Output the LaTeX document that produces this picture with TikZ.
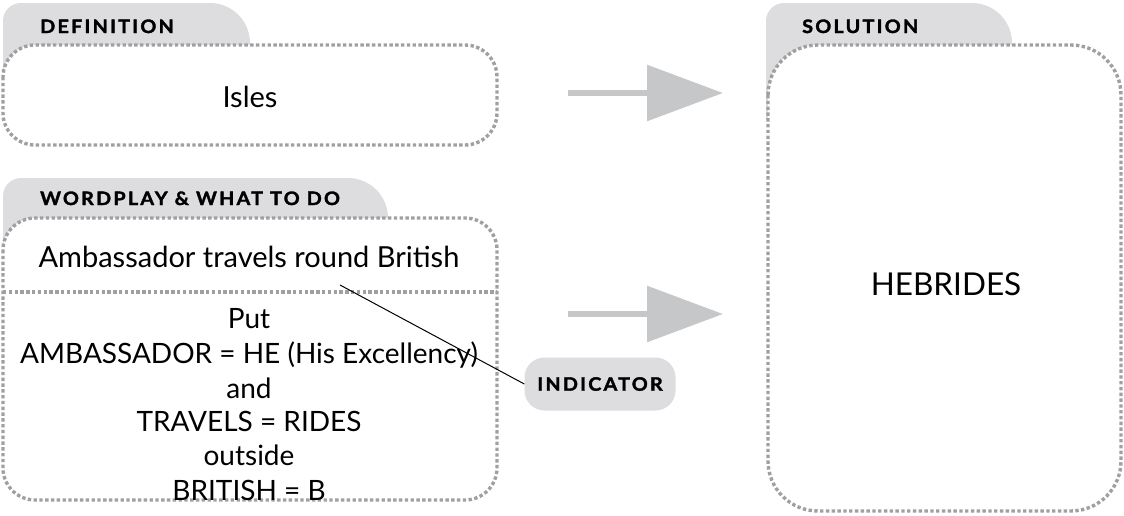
\documentclass[tikz,border=0pt]{standalone}
\usepackage{fontspec}
\setmainfont{Lato}
\newfontfamily\labfont[LetterSpace=12, FakeStretch=1.07, BoldFeatures={FakeBold=1.8}]{Lato}
\usetikzlibrary{arrows.meta}
\definecolor{tabgray}{HTML}{DDDDDF}
\definecolor{dotgray}{HTML}{A0A0A2}
\definecolor{arrgray}{HTML}{C6C7C9}
\tikzset{
  box/.style={draw=dotgray, line width=3.4pt, dash pattern=on 3.4pt off 2.4pt, fill=white, rounded corners=32pt},
  divider/.style={draw=dotgray, line width=3.4pt, dash pattern=on 3.4pt off 2.4pt},
  tab/.style={fill=tabgray},
  lab/.style={anchor=base west, inner sep=0pt, font=\labfont\bfseries\fontsize{18.5}{18.5}\selectfont},
  body/.style={inner sep=0pt, anchor=base, font=\fontsize{29}{34}\selectfont},
  expl/.style={body, font=\fontsize{28}{34}\selectfont},
  bigarrow/.style={draw=arrgray, line width=6pt, -{Triangle[length=76pt,width=55pt]}},
  pill/.style={fill=tabgray, rounded corners=20pt, minimum width=151pt, minimum height=53pt, inner sep=0pt, font=\labfont\bfseries\fontsize{18.5}{18.5}\selectfont},
  conn/.style={draw=black, line width=1pt}
}
\begin{document}
\begin{tikzpicture}[x=1pt,y=-1pt]
\useasboundingbox (0,0) rectangle (1124,515);
% tabs
\fill[tab] (3,95) {[rounded corners=18pt] -- (3,3)} {[rounded corners=40pt] -- (250,3)} -- (250,95) -- cycle;
\fill[tab] (3,265) {[rounded corners=18pt] -- (3,178)} {[rounded corners=40pt] -- (388,178)} -- (388,265) -- cycle;
\fill[tab] (766,120) {[rounded corners=18pt] -- (766,3)} {[rounded corners=40pt] -- (1012,3)} -- (1012,120) -- cycle;
\node[lab] (deflab) at (40,33) {DEFINITION};
\node[lab] (wplab) at (40,205) {WORDPLAY \& WHAT TO DO};
\node[lab] (sollab) at (802,33) {SOLUTION};
% boxes
\path[box] (3,45) rectangle (497,145);
\path[box] (3,218) rectangle (497,500);
\path[box, rounded corners=50pt] (768,45) rectangle (1121,511);
\coordinate (dl) at (3,292);
\coordinate (dr) at (497,292);
\draw[divider] (dl) -- (dr);
\node[body] (isles) at (250,107) {Isles};
\node[body] (clue) at (249,267) {Ambassador travels round British};
\node[expl] (l1) at (249,328) {Put};
\node[expl] (l2) at (249,363) {AMBASSADOR = HE (His Excellency)};
\node[expl] (l3) at (249,398) {and};
\node[expl] (l4) at (249,431) {TRAVELS = RIDES};
\node[expl] (l5) at (249,465) {outside};
\node[expl] (l6) at (249,500) {BRITISH = B};
\node[body, font=\fontsize{31.5}{32}\selectfont] (sol) at (946,295) {HEBRIDES};
% arrows
\coordinate (a1s) at (568,93);
\coordinate (a1e) at (723,93);
\coordinate (a2s) at (568,314);
\coordinate (a2e) at (723,314);
\draw[bigarrow] (a1s) -- (a1e);
\draw[bigarrow] (a2s) -- (a2e);
% indicator
\node[pill] (ind) at (600,384) {INDICATOR};
\coordinate (cp) at (340,285);
\draw[conn] (cp) -- (ind.west);
\end{tikzpicture}
\end{document}
